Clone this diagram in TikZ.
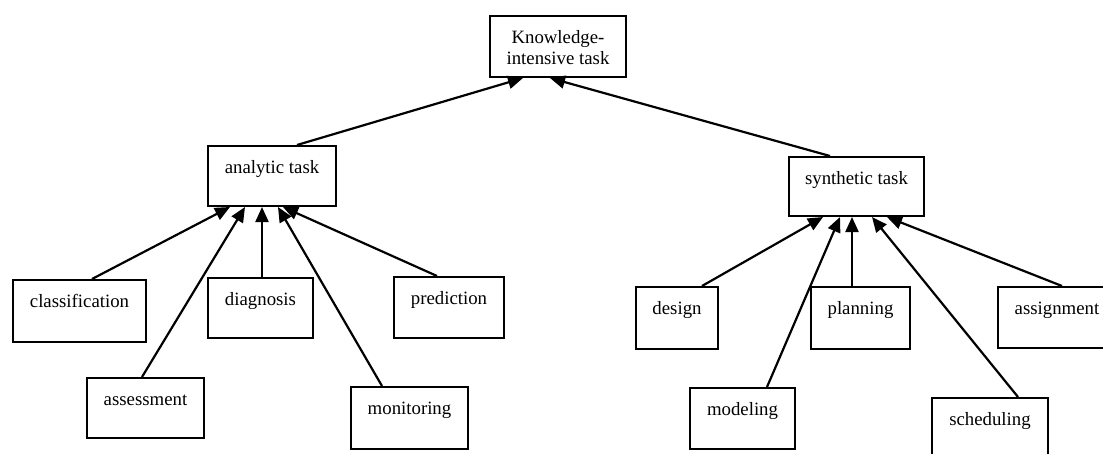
\documentclass[tikz,border=0pt]{standalone}
\usepackage{fontspec}
\setmainfont{Liberation Serif}
\usetikzlibrary{arrows.meta}
\begin{document}
\begin{tikzpicture}[x=1pt,y=-1pt,
  box/.style={draw, line width=2pt, inner sep=0pt, anchor=north west,
    font=\fontsize{18.8}{21}\selectfont, text height=27pt},
  link/.style={line width=2.2pt, -{Triangle[length=15pt,width=13pt]}}]
\useasboundingbox (0,0) rectangle (1103,453);

% top level
\node[box, minimum width=136pt, text height=48pt, text depth=13pt, align=center]
  (kit) at (489,15) {Knowledge-\\intensive task};

% second level
\node[box, minimum width=128pt, text depth=33pt] (ana) at (207,145) {analytic task};
\node[box, minimum width=135pt, text depth=32pt] (syn) at (788,156) {synthetic task};

% analytic subtasks
\node[box, minimum width=133pt, text depth=35pt] (cls) at (12,279)  {classification};
\node[box, minimum width=105pt, text depth=33pt] (dia) at (207,277) {diagnosis};
\node[box, minimum width=117pt, text depth=33pt] (ass) at (86,377)  {assessment};
\node[box, minimum width=117pt, text depth=35pt] (mon) at (350,386) {monitoring};
\node[box, minimum width=110pt, text depth=34pt] (pre) at (393,276) {prediction};

% synthetic subtasks
\node[box, minimum width=82pt,  text depth=35pt] (des) at (635,286) {design};
\node[box, minimum width=99pt,  text depth=35pt] (pla) at (810,286) {planning};
\node[box, minimum width=118pt, text depth=34pt] (asg) at (997,286) {assignment};
\node[box, minimum width=105pt, text depth=34pt] (mod) at (689,387) {modeling};
\node[box, minimum width=116pt, text depth=35pt] (sch) at (931,397) {scheduling};

% links to the top task
\draw[link] ([xshift=90pt]ana.north west) -- ([xshift=34pt]kit.south west);
\draw[link] ([xshift=42pt]syn.north west) -- ([xshift=61pt]kit.south west);

% links to the analytic task
\draw[link] ([xshift=80pt]cls.north west) -- ([xshift=23pt]ana.south west);
\draw[link] ([xshift=56pt]ass.north west) -- ([xshift=38pt]ana.south west);
\draw[link] ([xshift=55pt]dia.north west) -- ([xshift=55pt]ana.south west);
\draw[link] ([xshift=32pt]mon.north west) -- ([xshift=71pt]ana.south west);
\draw[link] ([xshift=44pt]pre.north west) -- ([xshift=76pt]ana.south west);

% links to the synthetic task
\draw[link] ([xshift=67pt]des.north west) -- ([xshift=35pt]syn.south west);
\draw[link] ([xshift=78pt]mod.north west) -- ([xshift=52pt]syn.south west);
\draw[link] ([xshift=42pt]pla.north west) -- ([xshift=64pt]syn.south west);
\draw[link] ([xshift=87pt]sch.north west) -- ([xshift=84pt]syn.south west);
\draw[link] ([xshift=65pt]asg.north west) -- ([xshift=99pt]syn.south west);
\end{tikzpicture}
\end{document}
